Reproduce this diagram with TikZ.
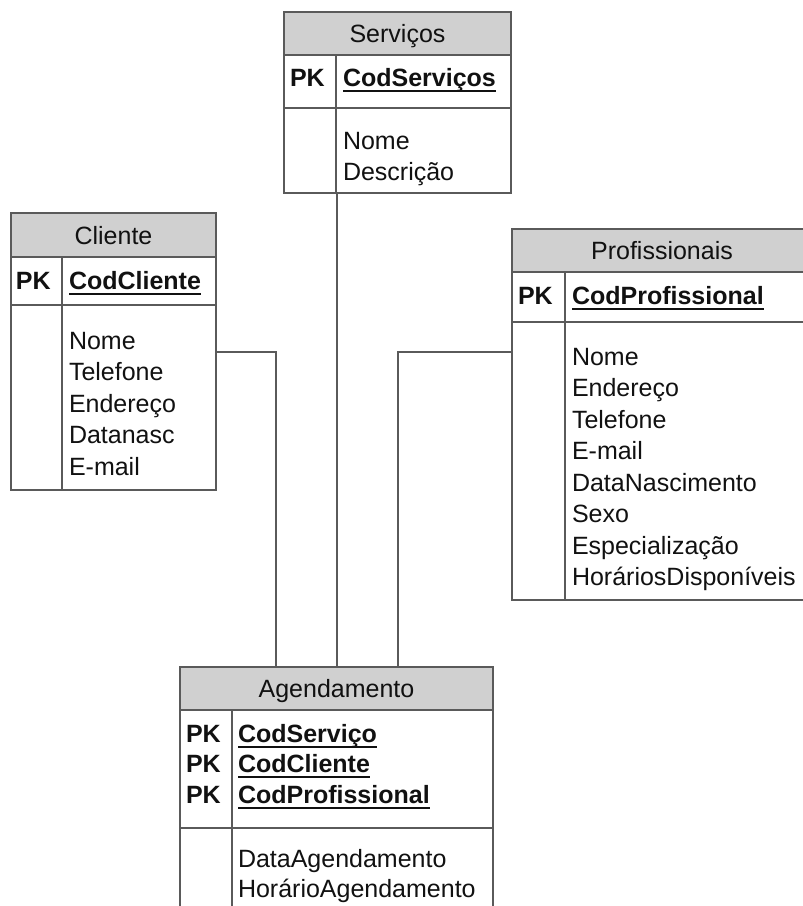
\documentclass[tikz,border=0pt]{standalone}
\usepackage{fontspec}
\setmainfont{Liberation Sans}
\definecolor{ln}{HTML}{5A5A5A}
\definecolor{hd}{HTML}{D0D0D0}
\definecolor{tx}{HTML}{111111}
\begin{document}
\begin{tikzpicture}[x=1pt,y=-1pt,
  tbl/.style={draw=ln,line width=1.5pt,rectangle,inner sep=0pt,outer sep=0pt,anchor=north west},
  sep/.style={draw=ln,line width=1.5pt},
  conn/.style={draw=ln,line width=1.5pt},
  hdr/.style={fill=hd},
  txt/.style={inner sep=0pt,outer sep=0pt,anchor=base west,text=tx,font=\fontsize{25}{30}\selectfont},
  ttl/.style={inner sep=0pt,outer sep=0pt,anchor=base,text=tx,font=\fontsize{25}{30}\selectfont},
  pk/.style={txt,font=\fontsize{25}{30}\selectfont\bfseries},
  ul/.style={draw=tx,line width=2pt}]
\useasboundingbox (0,0) rectangle (803,906);
\clip (0,0) rectangle (803,906);
\fill[white] (0,0) rectangle (803,906);

% ---------- Servicos ----------
\fill[hdr] (284,12) rectangle (511,55);
\node[tbl,minimum width=227pt,minimum height=181pt] (srv) at (284,12) {};
\draw[sep] (284,55) -- (511,55);
\draw[sep] (284,108) -- (511,108);
\draw[sep] (336,55) -- (336,193);
\node[ttl] (srvT) at (397.5,42.5) {Serviços};
\node[pk] (srvPK) at (290,86) {PK};
\node[pk] (srvK) at (343,86) {CodServiços};
\draw[ul] ([yshift=-4.5pt]srvK.base west) -- ([yshift=-4.5pt]srvK.base east);
\node[txt] (srvA1) at (343,149) {Nome};
\node[txt] (srvA2) at (343,180.5) {Descrição};

% ---------- Cliente ----------
\fill[hdr] (11,213) rectangle (216,257);
\node[tbl,minimum width=205pt,minimum height=277pt] (cli) at (11,213) {};
\draw[sep] (11,257) -- (216,257);
\draw[sep] (11,305) -- (216,305);
\draw[sep] (62,257) -- (62,490);
\node[ttl] (cliT) at (113.5,244) {Cliente};
\node[pk] (cliPK) at (16,289) {PK};
\node[pk] (cliK) at (69,289) {CodCliente};
\draw[ul] ([yshift=-4.5pt]cliK.base west) -- ([yshift=-4.5pt]cliK.base east);
\node[txt] (cliA1) at (69,349) {Nome};
\node[txt] (cliA2) at (69,380.5) {Telefone};
\node[txt] (cliA3) at (69,412) {Endereço};
\node[txt] (cliA4) at (69,443.5) {Datanasc};
\node[txt] (cliA5) at (69,475) {E-mail};

% ---------- Profissionais ----------
\fill[hdr] (512,229) rectangle (812,272);
\node[tbl,minimum width=300pt,minimum height=371pt] (pro) at (512,229) {};
\draw[sep] (512,272) -- (812,272);
\draw[sep] (512,322) -- (812,322);
\draw[sep] (565,272) -- (565,600);
\node[ttl] (proT) at (662,259.5) {Profissionais};
\node[pk] (proPK) at (518,304) {PK};
\node[pk] (proK) at (572,304) {CodProfissional};
\draw[ul] ([yshift=-4.5pt]proK.base west) -- ([yshift=-4.5pt]proK.base east);
\node[txt] (proA1) at (572,365) {Nome};
\node[txt] (proA2) at (572,396.5) {Endereço};
\node[txt] (proA3) at (572,428) {Telefone};
\node[txt] (proA4) at (572,459.5) {E-mail};
\node[txt] (proA5) at (572,491) {DataNascimento};
\node[txt] (proA6) at (572,522.5) {Sexo};
\node[txt] (proA7) at (572,554) {Especialização};
\node[txt] (proA8) at (572,585.5) {HoráriosDisponíveis};

% ---------- Agendamento ----------
\fill[hdr] (180,667) rectangle (493,710);
\node[tbl,minimum width=313pt,minimum height=263pt] (ag) at (180,667) {};
\draw[sep] (180,710) -- (493,710);
\draw[sep] (180,828) -- (493,828);
\draw[sep] (232,710) -- (232,930);
\node[ttl] (agT) at (336.5,697.5) {Agendamento};
\node[pk] (agPK1) at (186,742) {PK};
\node[pk] (agPK2) at (186,772.5) {PK};
\node[pk] (agPK3) at (186,803) {PK};
\node[pk] (agK1) at (238,742) {CodServiço};
\node[pk] (agK2) at (238,772.5) {CodCliente};
\node[pk] (agK3) at (238,803) {CodProfissional};
\draw[ul] ([yshift=-4.5pt]agK1.base west) -- ([yshift=-4.5pt]agK1.base east);
\draw[ul] ([yshift=-4.5pt]agK2.base west) -- ([yshift=-4.5pt]agK2.base east);
\draw[ul] ([yshift=-4.5pt]agK3.base west) -- ([yshift=-4.5pt]agK3.base east);
\node[txt] (agA1) at (238,867) {DataAgendamento};
\node[txt] (agA2) at (238,897) {HorárioAgendamento};

% ---------- connectors ----------
\draw[conn] (cli.east |- 0,352) -| (ag.north -| 276,0);
\draw[conn] (srv.south -| 337,0) -- (ag.north -| 337,0);
\draw[conn] (pro.west |- 0,352) -| (ag.north -| 398,0);
\end{tikzpicture}
\end{document}
